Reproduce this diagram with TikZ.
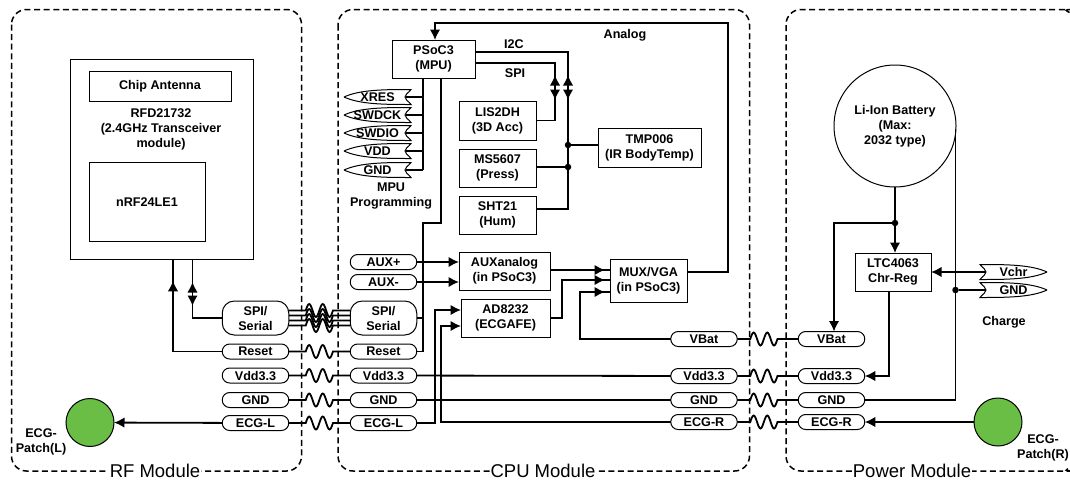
\documentclass[tikz,border=0pt]{standalone}
\usepackage{fontspec}
\setmainfont{Liberation Sans}
\usetikzlibrary{arrows.meta}
\usetikzlibrary{calc}
\usetikzlibrary{positioning}
\usetikzlibrary{decorations.markings}
\definecolor{patchgreen}{HTML}{6ABD45}
\newcommand{\labelfont}{\bfseries\fontsize{12.6}{15}\selectfont}
\tikzstyle{block} = [draw,rectangle,line width=1pt,inner sep=0pt,outer sep=0pt,align=center,font=\labelfont]
\tikzstyle{pill} = [draw,rectangle,rounded corners=7.4pt,line width=1pt,fill=white,inner sep=0pt,outer sep=0pt,minimum width=66.5pt,minimum height=15pt,font=\labelfont]
\tikzstyle{bigpill} = [pill,rounded corners=12pt,minimum height=34pt,align=center]
\tikzstyle{port} = [inner sep=0pt,outer sep=0pt,minimum width=67pt,minimum height=15pt,font=\labelfont]
\tikzstyle{portline} = [line width=1pt]
\tikzstyle{caption} = [inner sep=0pt,align=center,font=\labelfont]
\tikzstyle{modulebox} = [dashed,dash pattern=on 6pt off 3.6pt,line width=1.5pt,rounded corners=15pt]
\tikzstyle{modulelabel} = [fill=white,inner sep=0.6pt,font=\fontsize{18.5}{20}\selectfont]
\tikzstyle{patch} = [draw,circle,fill=patchgreen,line width=1pt,inner sep=0pt,outer sep=0pt,minimum size=48pt]
\tikzstyle{junction} = [circle,fill=black,inner sep=0pt,minimum size=6.5pt]
\tikzstyle{wire} = [line width=1.8pt]
\tikzstyle{connector} = [wire,-{Latex[length=10.5pt,width=10.5pt]}]
\newcommand{\tipstyle}{Latex[length=10.5pt,width=10.5pt]}
\tikzset{
  tipat/.style={postaction={decorate},decoration={markings,mark=at position #1 with {\arrow{\tipstyle}}}},
  bothat/.style 2 args={postaction={decorate},decoration={markings,
    mark=at position #1 with {\arrowreversed{\tipstyle}},
    mark=at position #2 with {\arrow{\tipstyle}}}}
}
\newcommand{\portleft}[1]{\draw[portline] (#1.west) .. controls +(16,-7.5) and +(-25,0) .. (#1.north east) .. controls +(-3,4) and +(0,-3) .. ([xshift=-6pt]#1.east) .. controls +(0,3) and +(-3,-4) .. (#1.south east) .. controls +(-25,0) and +(16,7.5) .. (#1.west);}
\newcommand{\portright}[1]{\draw[portline] (#1.east) .. controls +(-16,-7.5) and +(25,0) .. (#1.north west) .. controls +(3,4) and +(0,-3) .. ([xshift=6pt]#1.west) .. controls +(0,3) and +(3,-4) .. (#1.south west) .. controls +(25,0) and +(-16,7.5) .. (#1.east);}
% #1 and #2 are the ends, #3 the straight run before the wave
\newcommand{\wavecable}[3]{\draw[wire] (#1) -- ++(#3,0) sin ++(3.4,-6.5) cos ++(3.4,6.5) sin ++(3.4,6.5) cos ++(3.4,-6.5) sin ++(3.4,-6.5) cos ++(3.4,6.5) sin ++(3.4,6.5) cos ++(3.4,-6.5) -- (#2);}

\begin{document}
\begin{tikzpicture}[x=1pt,y=-1pt]
\useasboundingbox (0,0) rectangle (1070,480);

% the three modules
\draw[modulebox] (11.5,9.5) rectangle (301.5,471);
\draw[modulebox] (338,9.5) rectangle (749.5,471);
\draw[modulebox] (1069.5,12.5) .. controls (1066,10.5) and (1063,9.5) .. (1058,9.5) -- (786,9.5) -- (786,471) -- (1058,471) .. controls (1063,471) and (1066,470) .. (1069.5,468);
\node[modulelabel] (rflabel) at (155,471) {RF Module};
\node[modulelabel] (cpulabel) at (543,471) {CPU Module};
\node[modulelabel] (powerlabel) at (912,471) {Power Module};

% RF module
\node[block,minimum width=183pt,minimum height=200pt] (rfd) at (161.5,159) {};
\node[block,minimum width=142pt,minimum height=30pt] (antenna) at (160,86) {Chip Antenna};
\node[caption] (rfdtext) at (161,129) {RFD21732\\(2.4GHz Transceiver\\module)};
\node[block,minimum width=116pt,minimum height=79pt] (nrf) at (147,202) {nRF24LE1};
\node[patch] (patchL) at (90,422.5) {};
\node[caption] (patchLtext) at (41,441.5) {ECG-\\Patch(L)};

\node[bigpill] (spiL) at (255.5,318) {SPI/\\Serial};
\node[pill] (resetL) at (255.5,351.5) {Reset};
\node[pill,below=9pt of resetL] (vddL) {Vdd3.3};
\node[pill] (gndL) at (255.5,400) {GND};
\node[pill] (ecgL) at (255.5,423) {ECG-L};

% CPU module
\node[block,minimum width=83pt,minimum height=38pt] (psoc) at (433.5,59) {PSoC3\\(MPU)};
\node[block,minimum width=77pt,minimum height=39pt] (lis) at (497.5,120.5) {LIS2DH\\(3D Acc)};
\node[block,minimum width=77pt,minimum height=38pt,below=9pt of lis] (ms) {MS5607\\(Press)};
\node[block,minimum width=77pt,minimum height=38pt,below=9pt of ms] (sht) {SHT21\\(Hum)};
\node[block,minimum width=103pt,minimum height=39pt] (tmp) at (649.5,147.5) {TMP006\\(IR BodyTemp)};
\node[block,minimum width=91pt,minimum height=38pt] (aux) at (504.5,271) {AUXanalog\\(in PSoC3)};
\node[block,minimum width=89pt,minimum height=38pt] (ecgafe) at (505.5,318) {AD8232\\(ECGAFE)};
\node[block,minimum width=77pt,minimum height=43pt] (mux) at (648.5,280.5) {MUX/VGA\\(in PSoC3)};

\node[port] (xres) at (377.5,97) {XRES};
\node[port] (swdck) at (377.5,115) {SWDCK};
\node[port] (swdio) at (377.5,133) {SWDIO};
\node[port] (vddp) at (377.5,151) {VDD};
\node[port] (gndp) at (377.5,170) {GND};
\foreach \name in {xres,swdck,swdio,vddp,gndp}
  \portleft{\name};
\node[caption] (mpuprog) at (391,195.5) {MPU\\Programming};

\node[caption] (i2c) at (514,44) {I2C};
\node[caption] (spi) at (515,73) {SPI};
\node[caption] (analog) at (625,35) {Analog};

\node[pill] (auxp) at (383.5,262) {AUX+};
\node[pill] (auxm) at (383.5,282) {AUX-};
\node[bigpill] (spiC) at (383.5,318) {SPI/\\Serial};
\node[pill] (resetC) at (383.5,351.5) {Reset};
\node[pill,below=9pt of resetC] (vddC) {Vdd3.3};
\node[pill] (gndC) at (383.5,400) {GND};
\node[pill] (ecgC) at (383.5,423) {ECG-L};

\node[pill] (vbatC) at (704,339) {VBat};
\node[pill] (vddCR) at (704,376) {Vdd3.3};
\node[pill] (gndCR) at (704,400) {GND};
\node[pill] (ecgCR) at (704,422) {ECG-R};

% power module
\node[block,circle,minimum size=122pt] (battery) at (895,126) {Li-Ion Battery\\(Max:\\2032 type)};
\node[block,minimum width=76pt,minimum height=38pt] (charger) at (893,272) {LTC4063\\Chr-Reg};
\node[pill] (vbatP) at (831.5,339) {VBat};
\node[pill] (vddP) at (831.5,376) {Vdd3.3};
\node[pill] (gndP) at (831.5,400) {GND};
\node[pill] (ecgP) at (831.5,422) {ECG-R};
\node[patch] (patchR) at (998,422) {};
\node[caption] (patchRtext) at (1043,447.5) {ECG-\\Patch(R)};

\node[port] (vchr) at (1013.5,272) {Vchr};
\node[port] (gndchr) at (1013.5,290) {GND};
\portright{vchr};
\portright{gndchr};
\node[caption] (charge) at (1004,322) {Charge};

% junctions and corners of the buses
\coordinate (i2cbus) at (568,209);
\coordinate (spibus) at (555,120.5);
\coordinate (progbus) at (423,170);
\coordinate (rstturn) at (441,223);
\coordinate (rstbus) at (423,351.5);
\coordinate (analogturn) at (728,23);
\coordinate (afeturn) at (562,280);
\coordinate (vbatturn) at (580,292);
\coordinate (ecgLturn) at (435,310);
\coordinate (ecgRturn) at (441,326);
\coordinate (rfspi) at (192.5,318);
\coordinate (rfreset) at (173,351.5);
\coordinate (regturn) at (889,376);
\coordinate (gndbus) at (955.5,129);
\coordinate (vbatdown) at (834,223);
\node[junction] (tmpjoin) at (568,145) {};
\node[junction] (msjoin) at (568,167) {};
\node[junction] (batjoin) at (895,223) {};
\node[junction] (gndjoin) at (955.5,290) {};

% now link the nodes

\draw[wire,bothat={116pt}{141pt}] ([yshift=7pt]psoc.east) -| (i2cbus) -- (i2cbus -| sht.east);
\draw[wire,bothat={92pt}{117pt}] ([yshift=-4pt]psoc.east) -| (spibus) -- (lis.east);
\draw[wire] (tmp.west |- tmpjoin) -- (tmpjoin);
\draw[wire] (ms.east |- msjoin) -- (msjoin);
\draw[wire] (progbus |- psoc.south) -- (progbus);
\foreach \name in {xres,swdck,swdio,vddp,gndp}
  \draw[wire] ([xshift=-5pt]\name.east) -- (\name.east -| progbus);
\draw[wire] (rstturn |- psoc.south) -- (rstturn) -| (rstbus) -- (resetC.east);
\draw[wire] (spiC.east) -- (spiC.east -| rstbus);
\draw[connector] ([yshift=8.5pt]mux.east) -| (analogturn) -| ([xshift=1.5pt]psoc.north);

\draw[connector] (auxp) -- (auxp -| aux.west);
\draw[connector] (auxm) -- (auxm -| aux.west);
\draw[wire,tipat={-5pt}] ([yshift=1pt]aux.east) -- ([yshift=1pt]aux.east -| mux.west);
\draw[wire,tipat={-5pt}] (ecgafe.east) -| (afeturn) -- (afeturn -| mux.west);
\draw[wire,tipat={-5pt}] (vbatC.west) -| (vbatturn) -- (vbatturn -| mux.west);
\draw[connector] (ecgC.east) -| (ecgLturn) -- (ecgLturn -| ecgafe.west);
\draw[connector] (ecgCR.west) -| (ecgRturn) -- (ecgRturn -| ecgafe.west);
\draw[wire] (vddC) -- (vddCR);
\draw[wire] (gndC) -- (gndCR);

\draw[wire,bothat={23pt}{47pt}] (rfspi |- rfd.south) -- (rfspi) -- (spiL.west);
\draw[wire,tipat={120pt}] (resetL.west) -- (rfreset) -- (rfreset |- rfd.south);
\draw[connector] (ecgL) -- (patchL);

\draw[connector] (battery.south) -- (battery.south |- charger.north);
\draw[connector] (batjoin) -- (vbatdown) -- (vbatdown |- vbatP.north);
\draw[connector] (regturn |- charger.south) -- (regturn) -- (vddP.east);
\draw[wire] (gndbus) -- (gndbus |- gndP) -- (gndP.east);
\draw[wire] ([xshift=6pt]gndchr.west) -- (gndjoin);
\draw[connector] ([xshift=6pt]vchr.west) -- (vchr.west -| charger.east);
\draw[connector] (patchR) -- (ecgP);

% the cable between the modules
\wavecable{resetL.east}{resetC.west}{17}
\wavecable{vddL.east}{vddC.west}{17}
\wavecable{gndL.east}{gndC.west}{17}
\wavecable{ecgL.east}{ecgC.west}{17}
\foreach \shift in {-7.5,-2.5,2.5,7.5}{
  \wavecable{$(spiL.east)+(0,\shift)$}{$(spiC.west)+(0,\shift)$}{17}
}
\wavecable{vbatC.east}{vbatP.west}{13}
\wavecable{vddCR.east}{vddP.west}{13}
\wavecable{gndCR.east}{gndP.west}{13}
\wavecable{ecgCR.east}{ecgP.west}{13}
\end{tikzpicture}
\end{document}
